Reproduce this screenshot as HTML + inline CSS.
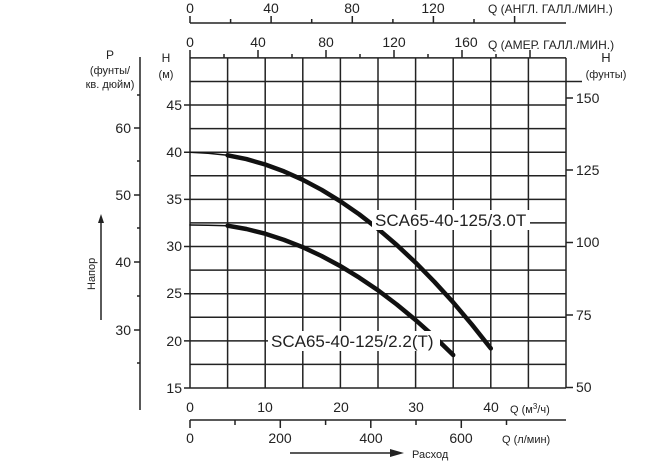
<!DOCTYPE html><html><head><meta charset="utf-8"><style>body{margin:0;background:#fff}svg{display:block;font-family:"Liberation Sans","DejaVu Sans",sans-serif}</style></head><body>
<svg width="671" height="461" viewBox="0 0 671 461">
<g stroke="#222" stroke-width="1.5" fill="none">
<path d="M190 57.9V388M227.6 57.9V388M265.2 57.9V388M302.8 57.9V388M340.4 57.9V388M378 57.9V388M415.6 57.9V388M453.2 57.9V388M490.8 57.9V388M528.4 57.9V388M566 57.9V388"/>
<path d="M190 57.9H566M190 81.5H582M190 105H566M190 128.6H566M190 152.2H566M190 175.8H566M190 199.4H566M190 222.9H566M190 246.5H566M190 270.1H566M190 293.7H566M190 317.3H566M190 340.9H566M190 364.4H566M190 388H566"/>
<path d="M184 105H190M184 152.2H190M184 199.4H190M184 246.5H190M184 293.7H190M184 340.9H190M184 388H190"/>
<path d="M566 98H573M566 170H573M566 242.5H573M566 315H573M566 387.5H573"/>
<path d="M140 57V410M134 128H140M134 195H140M134 262H140M134 330H140M137 161H140M137 228H140M137 296H140M137 363H140M137 95H140"/>
<path d="M190 23H566M190 16V23M230.6 19V23M271.1 16V23M311.7 19V23M352.3 16V23M392.9 19V23M433.4 16V23M474 19V23M514.6 16V23"/>
<path d="M190 50V58M224 54V58M258 50V58M292 54V58M326 50V58M360 54V58M394 50V58M428 54V58M462 50V58M496 54V58M530 50V58"/>
<path d="M190 420H566M190 420V428M235 420V425M280.3 420V428M325.6 420V425M370.8 420V428M416 420V425M461.3 420V428M506.5 420V425"/>
<path d="M101 222V320"/>
</g>
<path d="M101 214l-3 9h6z" fill="#222"/>
<path d="M290 453H392" stroke="#222" stroke-width="1.5"/><path d="M390 449l14 4-14 4z" fill="#222"/>
<g fill="none" stroke="#111" stroke-linecap="round" stroke-linejoin="round">
<path d="M190 152.3 L208 153.2 L227.6 155.3" stroke-width="1.5"/>
<polyline points="227.6,155.3 246.4,159.1 265.2,164.5 284,171.4 302.8,179.8 321.6,189.8 340.4,201.3 359.2,214.3 378,228.9 396.8,245 415.6,262.6 434.4,281.8 453.2,302.4 472,324.7 490.8,348.4" stroke-width="4.5"/>
<path d="M190 225 L208 225.3 L227.6 225.7" stroke-width="1.5"/>
<polyline points="227.6,225.7 246.4,229 265.2,233.7 284,239.9 302.8,247.2 321.6,256 340.4,266.1 359.2,277.6 378,290.3 396.8,304.5 415.6,320 434.4,336.8 453.2,355" stroke-width="4.5"/>
</g>
<g fill="#222" font-size="13">
<text x="190" y="13" text-anchor="middle" font-size="14">0</text>
<text x="271" y="13" text-anchor="middle" font-size="14">40</text>
<text x="352" y="13" text-anchor="middle" font-size="14">80</text>
<text x="433" y="13" text-anchor="middle" font-size="14">120</text>
<text x="488" y="13" font-size="12">Q (АНГЛ. ГАЛЛ./МИН.)</text>
<text x="190" y="47" text-anchor="middle" font-size="14">0</text>
<text x="258" y="47" text-anchor="middle" font-size="14">40</text>
<text x="326" y="47" text-anchor="middle" font-size="14">80</text>
<text x="394" y="47" text-anchor="middle" font-size="14">120</text>
<text x="466" y="47" text-anchor="middle" font-size="14">160</text>
<text x="488" y="49" font-size="12">Q (АМЕР. ГАЛЛ./МИН.)</text>
<text x="110" y="59" text-anchor="middle" font-size="12">P</text>
<text x="110" y="74" text-anchor="middle" font-size="11">(фунты/</text>
<text x="110" y="88" text-anchor="middle" font-size="11">кв. дюйм)</text>
<text x="166" y="62" text-anchor="middle" font-size="12">H</text>
<text x="166" y="78" text-anchor="middle" font-size="11">(м)</text>
<text x="606" y="62" text-anchor="middle" font-size="13">H</text>
<text x="606" y="78" text-anchor="middle" font-size="11">(фунты)</text>
<g font-size="14" text-anchor="end">
<text x="182" y="110">45</text><text x="182" y="157">40</text><text x="182" y="204">35</text><text x="182" y="251">30</text><text x="182" y="298">25</text><text x="182" y="346">20</text><text x="182" y="393">15</text>
<text x="131" y="133">60</text><text x="131" y="200">50</text><text x="131" y="267">40</text><text x="131" y="335">30</text>
</g>
<g font-size="14">
<text x="576" y="103">150</text><text x="576" y="175">125</text><text x="576" y="247">100</text><text x="576" y="320">75</text><text x="576" y="392">50</text>
</g>
<g font-size="14" text-anchor="middle">
<text x="190" y="412">0</text><text x="265" y="412">10</text><text x="341" y="412">20</text><text x="416" y="412">30</text><text x="491" y="412">40</text>
<text x="190" y="443">0</text><text x="280" y="443">200</text><text x="371" y="443">400</text><text x="461" y="443">600</text>
</g>
<text x="510" y="413" font-size="11">Q (м<tspan font-size="8" dy="-4">3</tspan><tspan dy="4">/ч)</tspan></text>
<text x="502" y="443" font-size="11">Q (л/мин)</text>
<text x="412" y="458" font-size="11">Расход</text>
<text transform="translate(95 290) rotate(-90)" font-size="11">Напор</text>
</g>
<rect x="372" y="210" width="158" height="20" fill="#fff"/>
<text x="375" y="226" font-size="17" fill="#222">SCA65-40-125/3.0T</text>
<rect x="268" y="331" width="172" height="20" fill="#fff"/>
<text x="271" y="347" font-size="17" fill="#222">SCA65-40-125/2.2(T)</text>
</svg></body></html>
